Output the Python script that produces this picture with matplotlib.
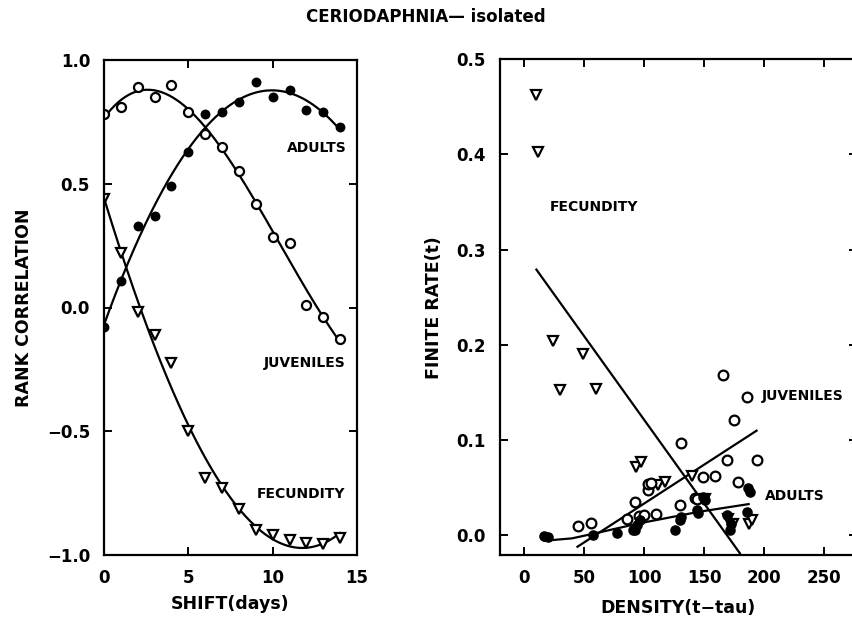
import numpy as np
import matplotlib
matplotlib.use("Agg")
import matplotlib.pyplot as plt

plt.rcParams['font.family'] = ['DejaVu Sans']

# ---- left panel: rank correlation vs shift ----
shift_days = [0, 1, 2, 3, 4, 5, 6, 7, 8, 9, 10, 11, 12, 13, 14]
adults_corr = [-0.077, 0.109, 0.33, 0.37, 0.49, 0.63, 0.78, 0.79, 0.83, 0.91,
               0.85, 0.88, 0.80, 0.79, 0.73]
juveniles_corr = [0.78, 0.81, 0.89, 0.85, 0.90, 0.79, 0.70, 0.65, 0.55, 0.42,
                  0.285, 0.26, 0.012, -0.04, -0.128]
fecundity_corr = [0.44, 0.22, -0.019, -0.11, -0.225, -0.50, -0.69, -0.73,
                  -0.815, -0.90, -0.92, -0.94, -0.95, -0.955, -0.93]

# ---- right panel: finite rate vs density ----
fec_dens = [10.3, 11.7, 24.2, 29.7, 49, 59.7, 93.5, 97.5, 111.7, 117, 139.5,
            150.5, 170, 174, 187, 190]
fec_rate = [0.462, 0.403, 0.204, 0.152, 0.19, 0.153, 0.071, 0.077, 0.053,
            0.056, 0.062, 0.038, 0.017, 0.012, 0.012, 0.016]

juv_dens = [45, 56, 86, 92, 96, 100, 103, 103, 106, 110, 130, 131, 142, 143.7,
            149, 159, 165.3, 169, 174.7, 178, 185.3, 194]
juv_rate = [0.0095, 0.013, 0.0165, 0.035, 0.02, 0.021, 0.047, 0.054, 0.055,
            0.022, 0.0315, 0.097, 0.0385, 0.0375, 0.0605, 0.062, 0.168, 0.079,
            0.121, 0.056, 0.145, 0.079]

ad_dens = [17, 20, 57.5, 77, 90.8, 92, 93.7, 96.4, 125.6, 129.7, 131, 143.7,
           145, 149, 150.6, 168.7, 171.4, 172, 185.3, 186.7, 188]
ad_rate = [-0.001, -0.002, 0.0, 0.002, 0.005, 0.005, 0.0105, 0.016, 0.005,
           0.016, 0.019, 0.026, 0.023, 0.040, 0.037, 0.021, 0.005, 0.012,
           0.0245, 0.049, 0.0455]

# fitted lines (intercept, slope, x range)
fec_fit = (0.2971, -0.00176, 10.3, 179.7)
juv_fit = (-0.0487, 0.000818, 44.5, 193.6)
# adults smoothed curve
ad_curve_x = [17, 40, 60, 96, 146, 187]
ad_curve_y = [-0.006, -0.0035, 0.002, 0.0123, 0.0245, 0.0325]

fig = plt.figure(figsize=(8.52, 6.21), dpi=100)
fig.text(0.5, 0.972, "CERIODAPHNIA\u2014 isolated", ha='center', va='center',
         fontsize=12, fontweight='bold')

lw = 1.6
mk = dict(markeredgewidth=1.6, linestyle='none', color='black')
lab_fs = 10

# left panel
ax1 = fig.add_axes([104/852, 1-555/621, 253/852, 495/621])
xs = np.linspace(0, 14, 200)
for vals in (adults_corr, juveniles_corr, fecundity_corr):
    p = np.poly1d(np.polyfit(shift_days, vals, 3))
    ax1.plot(xs, p(xs), 'k-', lw=lw)
ax1.plot(shift_days, adults_corr, 'o', markersize=5.5, markerfacecolor='black', **mk)
ax1.plot(shift_days, juveniles_corr, 'o', markersize=6.5, markerfacecolor='white', **mk)
ax1.plot(shift_days, fecundity_corr, 'v', markersize=7, markerfacecolor='white', **mk)
ax1.set_xlim(0, 15)
ax1.set_ylim(-1.0, 1.0)
ax1.set_xticks([0, 5, 10, 15])
ax1.set_yticks([-1.0, -0.5, 0.0, 0.5, 1.0])
ax1.set_yticklabels(["\u22121.0", "\u22120.5", "0.0", "0.5", "1.0"])
ax1.set_xlabel("SHIFT(days)", fontsize=12.5, fontweight='bold', labelpad=6)
ax1.set_ylabel("RANK CORRELATION", fontsize=12.5, fontweight='bold', labelpad=10)
ax1.text(14.4, 0.645, "ADULTS", ha='right', va='center', fontsize=lab_fs, fontweight='bold')
ax1.text(14.3, -0.223, "JUVENILES", ha='right', va='center', fontsize=lab_fs, fontweight='bold')
ax1.text(14.3, -0.753, "FECUNDITY", ha='right', va='center', fontsize=lab_fs, fontweight='bold')

# right panel
ax2 = fig.add_axes([500/852, 1-555/621, 357/852, (555-59.3)/621])
for b0, b1, x0, x1 in (fec_fit, juv_fit):
    fx = np.array([x0, x1])
    ax2.plot(fx, b0 + b1*fx, 'k-', lw=lw)
ax2.plot(ad_curve_x, ad_curve_y, 'k-', lw=lw)
ax2.plot(fec_dens, fec_rate, 'v', markersize=7, markerfacecolor='white', **mk)
ax2.plot(juv_dens, juv_rate, 'o', markersize=7, markerfacecolor='white', **mk)
ax2.plot(ad_dens, ad_rate, 'o', markersize=6, markerfacecolor='black', **mk)
ax2.set_xlim(-20, 277.2)
ax2.set_ylim(-0.021, 0.5)
ax2.set_xticks([0, 50, 100, 150, 200, 250])
ax2.set_yticks([0.0, 0.1, 0.2, 0.3, 0.4, 0.5])
ax2.set_xlabel("DENSITY(t\u2212tau)", fontsize=12.5, fontweight='bold', labelpad=9)
ax2.set_ylabel("FINITE RATE(t)", fontsize=12.5, fontweight='bold', labelpad=10)
ax2.text(21.4, 0.345, "FECUNDITY", ha='left', va='center', fontsize=lab_fs, fontweight='bold')
ax2.text(197.8, 0.146, "JUVENILES", ha='left', va='center', fontsize=lab_fs, fontweight='bold')
ax2.text(200.6, 0.041, "ADULTS", ha='left', va='center', fontsize=lab_fs, fontweight='bold')

for ax in (ax1, ax2):
    for s in ax.spines.values():
        s.set_linewidth(1.6)
    ax.tick_params(direction='in', length=6, width=1.4, top=True, right=True,
                   labelsize=12, pad=10)
    for lab in ax.get_xticklabels() + ax.get_yticklabels():
        lab.set_fontweight('bold')

fig.savefig("out.png", dpi=100)
